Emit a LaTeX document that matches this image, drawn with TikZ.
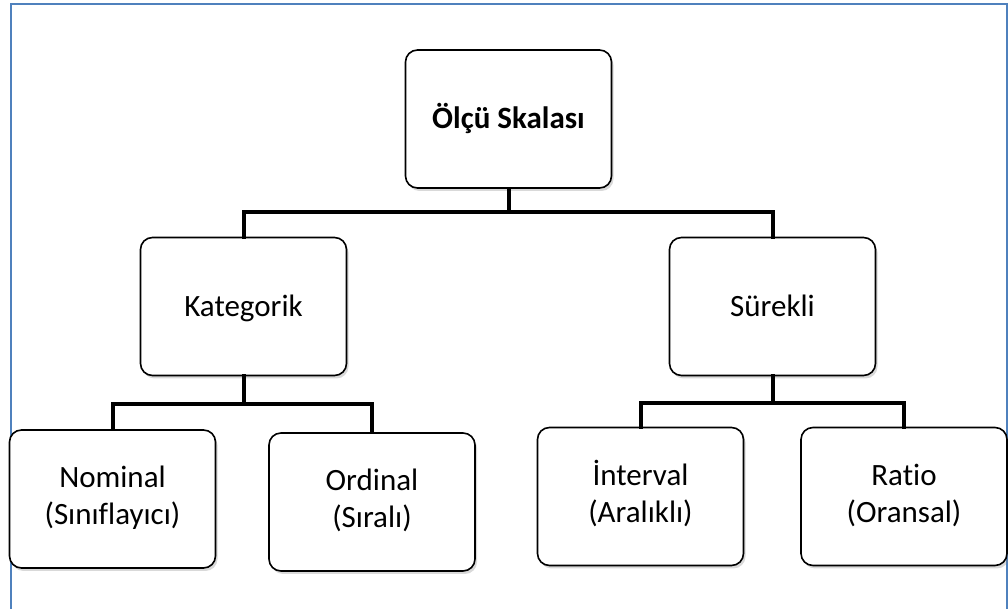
\documentclass[tikz,border=0pt]{standalone}
\usepackage{fontspec}
\setmainfont{Carlito}[Ligatures=NoCommon]
\usetikzlibrary{shadows}

\begin{document}
\begin{tikzpicture}[x=1pt,y=1pt,
        box/.style={draw, line width=1.6pt, rounded corners=12pt, fill=white, minimum width=206pt, minimum height=138pt, align=center, font=\fontsize{31}{37}\selectfont, drop shadow={shadow xshift=2pt, shadow yshift=-3pt, opacity=.3}},
        oneline/.style={box, text height=24pt, text depth=4pt},
        bus/.style={line width=4pt, line cap=rect}]
        \useasboundingbox (0,0) rectangle (1008,609);
        \draw[line width=2pt, color={rgb,255:red,79;green,129;blue,189}] (10.5,0) -- (10.5,604.5) -- (1006.5,604.5) -- (1006.5,0);
        \node[oneline, font=\fontsize{31}{37}\selectfont\bfseries] (olcu) at (508.5,490) {Ölçü Skalası};
        \node[oneline] (kat) at (243.5,302.5) {Kategorik};
        \node[oneline] (sur) at (772.5,302.5) {Sürekli};
        \node[box] (nom) at (112.5,110) {\strut Nominal\\\strut(Sınıflayıcı)};
        \node[box] (ord) at (372,107) {\strut Ordinal\\\strut(Sıralı)};
        \node[box] (int) at (640.5,112.5) {\strut İnterval\\\strut(Aralıklı)};
        \node[box] (rat) at (904,112.5) {\strut Ratio\\\strut(Oransal)};
        \draw[bus] (olcu.south) -- ++(0,-23) coordinate (j1);
        \draw[bus] (kat.north) |- (j1) -| (sur.north);
        \draw[bus] (kat.south) -- ++(0,-27.5) coordinate (j2);
        \draw[bus] (nom.north) |- (j2) -| (ord.north);
        \draw[bus] (sur.south) -- ++(0,-26.5) coordinate (j3);
        \draw[bus] (int.north) |- (j3) -| (rat.north);
\end{tikzpicture}
\end{document}
